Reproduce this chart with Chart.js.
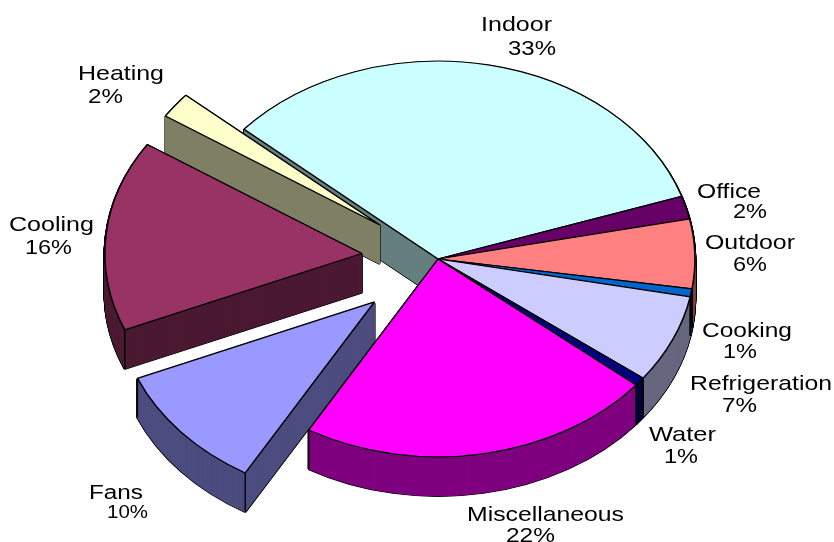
<!DOCTYPE html>
<html>
<head>
<meta charset="utf-8">
<style>html,body{margin:0;padding:0;background:#fff}canvas{display:block}</style>
<script src="https://cdn.jsdelivr.net/npm/chart.js@4"></script>
</head>
<body>
<canvas id="c" width="834" height="542"></canvas>
<script>
const categories = ['Indoor','Office','Outdoor','Cooking','Refrigeration','Water','Miscellaneous','Fans','Cooling','Heating'];
const shares = [33.49,1.87,5.67,0.64,7.23,0.7,22.4,10.3,15.6,2.1];
const topColors = ['#CCFFFF','#660066','#FF8080','#0066CC','#CCCCFF','#000080','#FF00FF','#9999FF','#993366','#FFFFCC'];
const wallColors = ['#668080','#330033','#804040','#003366','#666680','#000040','#800080','#4D4D80','#4D1A33','#808066'];
const explodeBy = [0,0,0,0,0,0,0,84.5,76.5,73];

// layout of the drawing
const CX = 438, CY = 259, RADIUS = 257, TILT = 0.77, DEPTH = 39;
const paintOrder = [[0,1,2,3,4,5,6],[9],[8],[7]];
// [left, baseline, width, fontSize] of the name line and the percent line
const nameBoxes = [[481,31,71,21],[697,198,64,21],[705,249,90,21],[702,337,90,21],[690,390,142,21],[649,441,67,21],[467,521,157,21],[89,499,54,20],[9,231,85,21],[78,80,86,21]];
const pctBoxes = [[508,55,48,21],[733,218,34,21],[733,271,34,21],[723,358,34,21],[722,412,35,21],[664,463,34,21],[506,542,49,21],[107,518,41,18],[25,254,47,21],[88,103,35,21]];

function place(ctx, arc, explode, drop) {
  const mid = (arc.startAngle + arc.endAngle) / 2;
  ctx.translate(CX, CY + drop);
  ctx.scale(1, TILT);
  ctx.translate(Math.cos(mid) * explode - arc.x, Math.sin(mid) * explode - arc.y);
}
function paintArc(ctx, arc, explode, drop, opts) {
  const a = Object.create(arc);
  a.options = Object.assign({}, arc.options, opts);
  ctx.save();
  place(ctx, arc, explode, drop);
  a.draw(ctx);
  ctx.restore();
}
const pie3d = {
  id: 'pie3d',
  beforeDatasetsDraw(chart) {
    const ctx = chart.ctx, arcs = chart.getDatasetMeta(0).data;
    paintOrder.forEach(group => {
      // silhouette
      group.forEach(i => {
        for (let d = DEPTH; d >= 1; d -= 0.5) {
          paintArc(ctx, arcs[i], explodeBy[i], d, {backgroundColor:'#000', borderColor:'#000', borderWidth:2.6});
        }
      });
      // side walls, in fine steps so that thin wedges leave no gaps
      group.forEach(i => {
        for (let d = DEPTH; d >= 0; d -= 0.2) {
          paintArc(ctx, arcs[i], explodeBy[i], d, {backgroundColor:wallColors[i], borderColor:wallColors[i], borderWidth:0.6});
        }
      });
      // vertical edges on the front half
      group.forEach(i => {
        const arc = arcs[i], mid = (arc.startAngle + arc.endAngle) / 2;
        [arc.startAngle, arc.endAngle].forEach(t => {
          if (Math.sin(t) <= 0) return;
          const px = CX + Math.cos(mid) * explodeBy[i] + Math.cos(t) * arc.outerRadius;
          const py = CY + TILT * (Math.sin(mid) * explodeBy[i] + Math.sin(t) * arc.outerRadius);
          ctx.save();
          ctx.strokeStyle = '#000';
          ctx.lineWidth = 1.4;
          ctx.beginPath();
          ctx.moveTo(px, py);
          ctx.lineTo(px, py + DEPTH);
          ctx.stroke();
          ctx.restore();
        });
      });
      // top faces
      group.forEach(i => {
        paintArc(ctx, arcs[i], explodeBy[i], 0, {borderColor:'#000', borderWidth:1.6});
      });
    });
    return false;
  },
  afterDraw(chart) {
    const ctx = chart.ctx;
    const put = (text, box) => {
      ctx.save();
      ctx.font = box[3] + 'px "Liberation Sans", Arial, sans-serif';
      ctx.fillStyle = '#000';
      ctx.textAlign = 'left';
      ctx.textBaseline = 'alphabetic';
      const w = ctx.measureText(text).width;
      ctx.translate(box[0], box[1]);
      ctx.scale(box[2] / w, 1);
      ctx.fillText(text, 0, 0);
      ctx.restore();
    };
    categories.forEach((name, i) => {
      put(name, nameBoxes[i]);
      put(Math.round(shares[i]) + '%', pctBoxes[i]);
    });
  }
};
new Chart(document.getElementById('c'), {
  type: 'pie',
  data: { labels: categories, datasets: [{ data: shares, backgroundColor: topColors, borderColor: '#000', borderWidth: 1.6 }] },
  options: {
    responsive: false,
    animation: false,
    devicePixelRatio: 1,
    rotation: 311,
    radius: RADIUS,
    plugins: { legend: { display: false }, tooltip: { enabled: false }, title: { display: false } }
  },
  plugins: [pie3d]
});
</script>
</body>
</html>
